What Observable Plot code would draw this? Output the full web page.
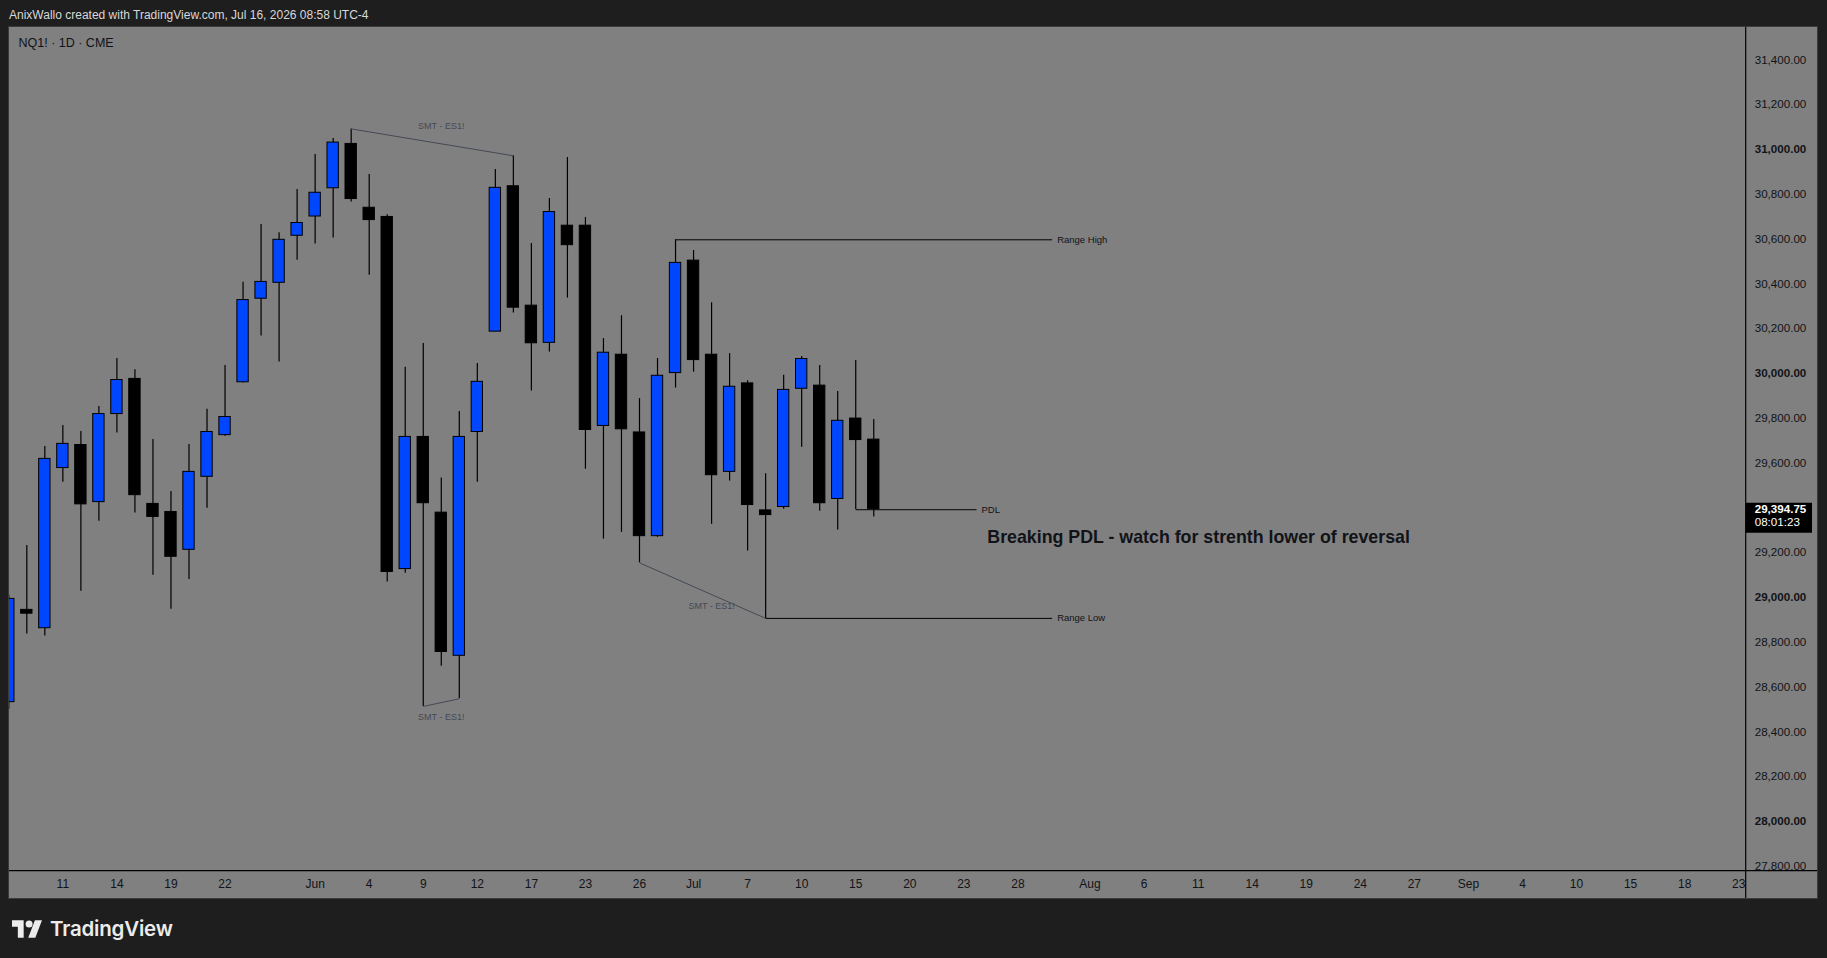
<!DOCTYPE html>
<html>
<head>
<meta charset="utf-8">
<script src="https://cdn.jsdelivr.net/npm/d3@7"></script>
<script src="https://cdn.jsdelivr.net/npm/@observablehq/plot@0.6"></script>
<style>
  html, body { margin: 0; padding: 0; background: #1e1e1e; width: 1827px; height: 958px; overflow: hidden; }
  #header { position: absolute; left: 9px; top: 8px; font: 12px "Liberation Sans", Arial, sans-serif; color: #d8d8d8; white-space: nowrap; }
  #panel { position: absolute; left: 9px; top: 27px; width: 1808px; height: 871px; outline: 1px solid #3a3a3a; }
  #footer { position: absolute; left: 12px; top: 916px; display: flex; align-items: center; gap: 8px; color: #ececec; font: 600 20.5px "Inter", "Liberation Sans", sans-serif; letter-spacing: -0.2px; }
</style>
</head>
<body>
<div id="header">AnixWallo created with TradingView.com, Jul 16, 2026 08:58 UTC-4</div>
<div id="panel"></div>
<div id="footer">
  <svg width="30" height="23" viewBox="0 0 36 26"><path fill="#ececec" d="M14 24H7V11H0V3h14v21zM28 24h-8.5l8-21h8.5L28 24z"/><circle fill="#ececec" cx="20.5" cy="7.5" r="4.2"/></svg>
  <span>TradingView</span>
</div>
<script>
// ---- Data (daily candles, trading-day index) ----
const dates  = ["May 6","May 7","May 8","May 11","May 12","May 13","May 14","May 15","May 18","May 19","May 20","May 21","May 22","May 26","May 27","May 28","May 29","Jun 1","Jun 2","Jun 3","Jun 4","Jun 5","Jun 8","Jun 9","Jun 10","Jun 11","Jun 12","Jun 15","Jun 16","Jun 17","Jun 18","Jun 22","Jun 23","Jun 24","Jun 25","Jun 26","Jun 29","Jun 30","Jul 1","Jul 2","Jul 6","Jul 7","Jul 8","Jul 9","Jul 10","Jul 13","Jul 14","Jul 15","Jul 16"];
const opens  = [28533,28945,28863,29578,29681,29426,29819,29976,29418,29382,29213,29539,29725,29961,30334,30405,30615,30701,30827,31025,30740,30699,29127,29717,29379,28740,29739,30187,30836,30303,30137,30660,30660,29766,30084,29737,29274,30002,30504,30084,29561,29956,29389,29404,29932,29946,29440,29799,29705];
const highs  = [29010,29232,29674,29768,29741,29853,30067,30017,29705,29473,29683,29840,30036,30407,30665,30629,30822,30978,31049,31092,30889,30709,30028,30134,29534,29830,30045,30911,30972,30581,30781,30964,30696,30156,30258,29888,30067,30597,30549,30316,30089,29968,29553,29992,30076,30036,29920,30058,29795];
const lows   = [28500,28837,28828,29515,29028,29341,29734,29377,29100,28948,29081,29399,29720,29958,30168,30052,30506,30578,30605,30766,30439,29069,29109,28514,28693,28548,29515,30187,30270,29922,30096,30337,29573,29261,29291,29155,29269,29935,30006,29327,29520,29208,28907,29394,29671,29385,29302,29392,29360];
const closes = [28994,28928,29619,29686,29416,29819,29971,29457,29360,29182,29561,29739,29806,30328,30409,30597,30672,30807,31031,30779,30685,29114,29717,29421,28757,29717,29963,30829,30294,30135,30721,30573,29748,30093,29751,29274,29990,30494,30060,29546,29941,29413,29368,29927,30065,29421,29789,29703,29394.75];

// x-axis tick labels (trading-day index -> label)
const tickIdx    = [3,6,9,12,17,20,23,26,29,32,35,38,41,44,47,50,53,56,60,63,66,69,72,75,78,81,84,87,90,93,96];
const tickLabels = ["11","14","19","22","Jun","4","9","12","17","23","26","Jul","7","10","15","20","23","28","Aug","6","11","14","19","24","27","Sep","4","10","15","18","23"];

// price axis ticks
const priceTicks = d3.range(27800, 31401, 200);

// SMT divergence links (index, price)
const smtX1 = [19, 23, 35];
const smtY1 = [31092, 28514, 29155];
const smtX2 = [28, 25, 42];
const smtY2 = [30972, 28548, 28907];
const smtLabelX = [24, 24, 39];
const smtLabelY = [31104, 28466, 28961];

// horizontal levels
const levelNames = ["Range High", "Range Low", "PDL"];
const levelStart = [37, 42, 47];
const levelEnd   = [57.9, 57.9, 53.7];
const levelPrice = [30597, 28907, 29392];

const noteText  = "Breaking PDL - watch for strenth lower of reversal";
const noteX = 54.3, noteY = 29269;
const countdown = "08:01:23";
const symbolTitle = "NQ1! · 1D · CME";

// ---- Build ----
const candles = dates.map((d, i) => ({i, date: d, open: opens[i], high: highs[i], low: lows[i], close: closes[i]}));
const smt = smtX1.map((x, k) => ({x1: x, y1: smtY1[k], x2: smtX2[k], y2: smtY2[k], lx: smtLabelX[k], ly: smtLabelY[k]}));
const levels = levelNames.map((n, k) => ({name: n, x1: levelStart[k], x2: levelEnd[k], y: levelPrice[k]}));
const last = candles[candles.length - 1];

const BLUE = "#0046ff", INK = "#111318", SMTC = "#444955";
const fmt = d3.format(",.2f");
const xDomain = [0.039, 96.415];
const font = "'Liberation Sans', Arial, sans-serif";

const chart = Plot.plot({
  width: 1808,
  height: 871,
  marginLeft: 0,
  marginRight: 71.3,
  marginTop: 0,
  marginBottom: 27.3,
  x: {type: "linear", domain: xDomain, axis: null},
  y: {domain: [27778.4, 31544.7], axis: null},
  color: {type: "identity"},
  style: {background: "#808080", fontFamily: font, overflow: "hidden"},
  marks: [
    Plot.ruleX(candles, {x: "i", y1: "low", y2: "high", stroke: "#000", strokeWidth: 1.2, clip: true}),
    Plot.rect(candles, {x1: d => d.i - 0.315, x2: d => d.i + 0.315, y1: "open", y2: "close",
      fill: d => d.close >= d.open ? BLUE : "#000", stroke: "#000", strokeWidth: 1, clip: true}),
    Plot.link(smt, {x1: "x1", y1: "y1", x2: "x2", y2: "y2", stroke: SMTC, strokeWidth: 1}),
    Plot.text(smt, {x: "lx", y: "ly", text: () => "SMT - ES1!", fill: "#454a55", fontSize: 9}),
    Plot.link(levels, {x1: "x1", x2: "x2", y1: "y", y2: "y", stroke: "#000", strokeWidth: 1}),
    Plot.text(levels, {x: "x2", y: "y", text: "name", textAnchor: "start", dx: 5, fill: INK, fontSize: 9.5}),
    Plot.text([noteText], {x: noteX, y: noteY, text: d => d, textAnchor: "start", fill: INK, fontSize: 17.8, fontWeight: "bold"}),
    Plot.text([symbolTitle], {frameAnchor: "top-left", dx: 9, dy: 10.5, text: d => d, fill: INK, fontSize: 12.5}),
    // price axis labels
    Plot.text(priceTicks.filter(t => t % 1000 !== 0), {y: d => d, frameAnchor: "right", dx: 8.5, textAnchor: "start", text: fmt, fill: INK, fontSize: 11.6, ariaLabel: "price-axis"}),
    Plot.text(priceTicks.filter(t => t % 1000 === 0), {y: d => d, frameAnchor: "right", dx: 8.5, textAnchor: "start", text: fmt, fill: INK, fontSize: 11.6, fontWeight: "bold", ariaLabel: "price-axis"}),
    // last price box
    Plot.ruleY([last], {y: "close", x1: () => xDomain[1], x2: () => xDomain[1] + 3.68, dy: 8.7, stroke: "#000", strokeWidth: 30}),
    Plot.text([last], {y: "close", frameAnchor: "right", dx: 8.5, textAnchor: "start", text: d => fmt(d.close), fill: "#fff", fontWeight: "bold", fontSize: 11.6}),
    Plot.text([last], {y: "close", frameAnchor: "right", dx: 8.5, dy: 13, textAnchor: "start", text: () => countdown, fill: "#fff", fontSize: 11.6}),
    // date axis labels
    Plot.text(tickIdx, {x: d => d, frameAnchor: "bottom", lineAnchor: "middle", dy: 12.8, text: (d, k) => tickLabels[k], fill: INK, fontSize: 12, ariaLabel: "date-axis"})
  ]
});

document.getElementById("panel").appendChild(chart);

// separators & clipping of axis areas
const sx = chart.scale("x"), W = 1808, H = 871;
const xr = sx.range[1];
const yb = H - 27.3;
const svg = d3.select(chart);
const defs = svg.insert("defs", ":first-child");
defs.append("clipPath").attr("id", "clipPrice").append("rect").attr("x", xr).attr("y", 0).attr("width", W - xr).attr("height", yb);
defs.append("clipPath").attr("id", "clipDate").append("rect").attr("x", 0).attr("y", yb).attr("width", xr).attr("height", H - yb);
svg.selectAll('g[aria-label="price-axis"]').attr("clip-path", "url(#clipPrice)");
svg.selectAll('g[aria-label="date-axis"]').attr("clip-path", "url(#clipDate)");
svg.append("line").attr("x1", xr).attr("x2", xr).attr("y1", 0).attr("y2", H).attr("stroke", "#000").attr("stroke-width", 1.2);
svg.append("line").attr("x1", 0).attr("x2", W).attr("y1", yb).attr("y2", yb).attr("stroke", "#000").attr("stroke-width", 1.2);
</script>
</body>
</html>
